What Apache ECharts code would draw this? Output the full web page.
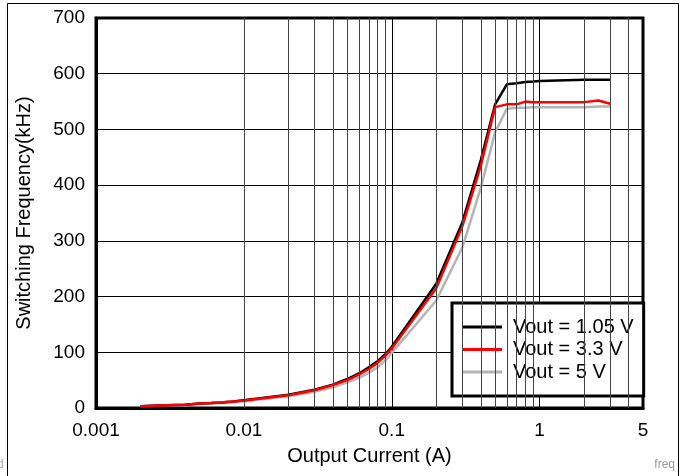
<!DOCTYPE html>
<html>
<head>
<meta charset="utf-8">
<script src="https://cdn.jsdelivr.net/npm/echarts@6/dist/echarts.min.js"></script>
<style>
  html, body { margin: 0; padding: 0; background: #fff; }
  #chart { width: 682px; height: 476px; }
</style>
</head>
<body>
<div id="chart"></div>
<script>
// output current (A)
const currents = [0.002, 0.003, 0.004, 0.005, 0.006, 0.007, 0.008, 0.009, 0.01,
  0.02, 0.03, 0.04, 0.05, 0.06, 0.07, 0.08, 0.09, 0.1,
  0.2, 0.3, 0.4, 0.5, 0.6, 0.7, 0.8, 0.9, 1, 2, 2.5, 3]

// switching frequency (kHz)
const freqVout105 = [3, 5, 6, 8, 9, 10, 11, 12.5, 14, 24, 33, 42, 52, 62, 73, 84, 96, 110,
  223, 333, 445, 545, 581, 583, 585, 586, 587, 589, 589, 589]
const freqVout33 = [3, 5, 6, 8, 9, 10, 11, 12, 13.5, 23, 32, 41, 50, 60, 70, 81, 93, 107,
  215, 326, 435, 540, 545, 545, 550, 549, 549, 549, 552, 546]
const freqVout5 = [3, 4.5, 5.5, 7, 8, 9, 10, 11, 12, 21, 29, 37, 46, 54, 63, 73, 85, 99,
  193, 288, 395, 495, 537, 539, 539, 540, 540, 540, 541, 541]

const seriesNames = ['Vout = 1.05 V', 'Vout = 3.3 V', 'Vout = 5 V']
const minorGrid = [0.002, 0.003, 0.004, 0.005, 0.006, 0.007, 0.008, 0.009,
  0.02, 0.03, 0.04, 0.05, 0.06, 0.07, 0.08, 0.09,
  0.2, 0.3, 0.4, 0.5, 0.6, 0.7, 0.8, 0.9, 2, 3, 4]

const font = "'Liberation Sans', Arial, Helvetica, sans-serif"
const pairs = (ys) => currents.map((x, i) => [x, ys[i]])

const chart = echarts.init(document.getElementById('chart'))

const lineSeries = (name, ys, color, z) => ({
  name: name,
  type: 'line',
  data: pairs(ys),
  symbol: 'none',
  showSymbol: false,
  z: z,
  lineStyle: { color: color, width: 2.5 },
  itemStyle: { color: color },
})

const option = {
  animation: false,
  backgroundColor: '#fff',
  textStyle: { fontFamily: font },
  graphic: [
    {
      type: 'rect',
      z: -10,
      shape: { x: 7.5, y: 3.5, width: 671, height: 480 },
      style: { fill: 'none', stroke: '#000', lineWidth: 1 },
    },
    {
      type: 'text',
      right: 7,
      top: 459,
      style: { text: 'freq', fill: '#999', font: '12px ' + font },
    },
    {
      type: 'text',
      left: -3,
      top: 459,
      style: { text: 'd', fill: '#aaa', font: '12px ' + font },
    },
  ],
  grid: {
    left: 96,
    right: 39,
    top: 18,
    bottom: 68,
    show: true,
    borderColor: '#000',
    borderWidth: 3,
    backgroundColor: 'transparent',
  },
  legend: {
    orient: 'vertical',
    left: 452,
    top: 303,
    data: seriesNames,
    icon: 'rect',
    backgroundColor: '#fff',
    borderColor: '#000',
    borderWidth: 3,
    padding: [14, 10, 14, 10],
    itemWidth: 40,
    itemHeight: 3,
    itemGap: 2.5,
    textStyle: { fontSize: 20, color: '#000', fontFamily: font, padding: [0, 0, 0, 6] },
  },
  xAxis: {
    type: 'log',
    logBase: 10,
    min: 0.001,
    max: 5,
    name: 'Output Current (A)',
    nameLocation: 'middle',
    nameGap: 38,
    nameTextStyle: { fontSize: 20, color: '#000', fontFamily: font },
    axisLine: { lineStyle: { color: '#000', width: 3 } },
    axisTick: { show: false },
    axisLabel: {
      fontSize: 19,
      color: '#000',
      margin: 13,
      showMinLabel: true,
      showMaxLabel: true,
      formatter: (v) => String(+Number(v).toPrecision(3)),
    },
    splitLine: { show: true, lineStyle: { color: '#000', width: 1 } },
  },
  yAxis: {
    type: 'value',
    min: 0,
    max: 700,
    interval: 100,
    name: 'Switching Frequency(kHz)',
    nameLocation: 'middle',
    nameGap: 62,
    nameTextStyle: { fontSize: 20, color: '#000', fontFamily: font },
    axisLine: { show: true, lineStyle: { color: '#000', width: 3 } },
    axisTick: { show: false },
    axisLabel: { fontSize: 19, color: '#000', margin: 11 },
    splitLine: { show: true, lineStyle: { color: '#000', width: 1 } },
  },
  series: [
    {
      name: 'grid',
      type: 'line',
      data: [],
      z: 1,
      silent: true,
      markLine: {
        silent: true,
        symbol: 'none',
        label: { show: false },
        lineStyle: { color: '#444', width: 1, type: 'solid' },
        data: minorGrid.map((v) => ({ xAxis: v })),
      },
    },
    lineSeries(seriesNames[0], freqVout105, '#000000', 3),
    lineSeries(seriesNames[1], freqVout33, '#ff0000', 4),
    lineSeries(seriesNames[2], freqVout5, '#b4b4b4', 2),
  ],
}

chart.setOption(option)
</script>
</body>
</html>
